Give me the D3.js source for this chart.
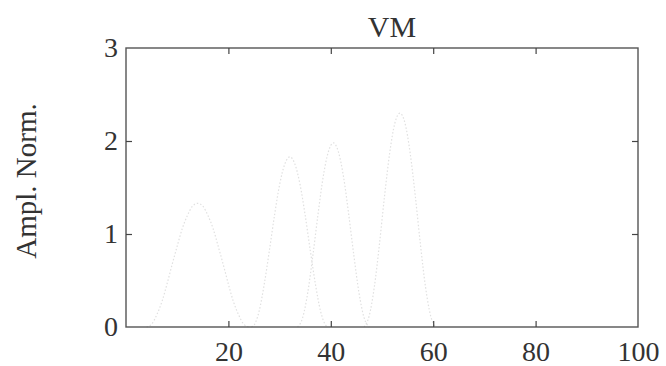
<!DOCTYPE html>
<html>
<head>
<meta charset="utf-8">
<script src="https://cdn.jsdelivr.net/npm/d3@7"></script>
<style>
  html, body { margin: 0; padding: 0; background: #fff; }
  svg { display: block; }
  .tick text, .lbl { font-family: "Liberation Serif", "Times New Roman", serif; fill: #333; }
</style>
</head>
<body>
<svg id="chart" width="666" height="366"></svg>
<script>
// Four normalised pulses (sample position, amplitude)
const pulse1X = [4, 5, 6, 7, 8, 9, 10, 11, 12, 13, 14, 15, 16, 17, 18, 19, 20, 21, 22, 23, 24];
const pulse1Y = [0, 0.03, 0.13, 0.27, 0.46, 0.67, 0.87, 1.06, 1.20, 1.30, 1.33, 1.30, 1.20, 1.06, 0.87, 0.67, 0.46, 0.27, 0.13, 0.03, 0];

const pulse2X = [24.5, 25, 26, 27, 28, 29, 30, 31, 32, 33, 34, 35, 36, 37, 38, 39, 39.5];
const pulse2Y = [0, 0.02, 0.17, 0.46, 0.82, 1.20, 1.53, 1.75, 1.83, 1.75, 1.53, 1.20, 0.82, 0.46, 0.17, 0.02, 0];

const pulse3X = [33.5, 34.5, 35.5, 36.5, 37.5, 38.5, 39.5, 40.5, 41.5, 42.5, 43.5, 44.5, 45.5, 46.5, 47.5];
const pulse3Y = [0, 0.10, 0.37, 0.77, 1.21, 1.61, 1.88, 1.98, 1.88, 1.61, 1.21, 0.77, 0.37, 0.10, 0];

const pulse4X = [46.5, 47.5, 48.5, 49.5, 50.5, 51.5, 52.5, 53.5, 54.5, 55.5, 56.5, 57.5, 58.5, 59.5, 60.5];
const pulse4Y = [0, 0.12, 0.43, 0.89, 1.41, 1.87, 2.19, 2.30, 2.19, 1.87, 1.41, 0.89, 0.43, 0.12, 0];

const xTicks = [20, 40, 60, 80, 100];
const yTicks = [0, 1, 2, 3];
const titleText = "VM";
const yLabelText = "Ampl. Norm.";

const svg = d3.select("#chart");
const plotLeft = 126, plotRight = 638, plotTop = 48, plotBottom = 327;

const x = d3.scaleLinear().domain([0, 100]).range([plotLeft, plotRight]);
const y = d3.scaleLinear().domain([0, 3]).range([plotBottom, plotTop]);

// pulses, drawn as faint dotted traces
const pulses = [[pulse1X, pulse1Y], [pulse2X, pulse2Y], [pulse3X, pulse3Y], [pulse4X, pulse4Y]];
const line = d3.line().x(d => x(d[0])).y(d => y(d[1])).curve(d3.curveMonotoneX);
pulses.forEach(([xs, ys]) => {
  svg.append("path")
    .datum(xs.map((v, i) => [v, ys[i]]))
    .attr("d", line)
    .attr("fill", "none")
    .attr("stroke", "#e0e0e0")
    .attr("stroke-width", 1.2)
    .attr("stroke-dasharray", "1.5,2");
});

// frame
svg.append("rect")
  .attr("x", plotLeft).attr("y", plotTop)
  .attr("width", plotRight - plotLeft).attr("height", plotBottom - plotTop)
  .attr("fill", "none").attr("stroke", "#555").attr("stroke-width", 1.4);

function styleAxis(g) {
  g.select(".domain").remove();
  g.selectAll(".tick line").attr("stroke", "#444").attr("stroke-width", 1.2);
  g.selectAll(".tick text").attr("font-size", 28).attr("fill", "#333");
}

// bottom axis with labels, inward ticks
svg.append("g").attr("transform", `translate(0,${plotBottom})`)
  .call(d3.axisBottom(x).tickValues(xTicks).tickSize(-6).tickPadding(14).tickFormat(d3.format("d")))
  .call(styleAxis)
  .call(g => g.selectAll(".tick").filter(d => d === 100).select("line").remove());

// top mirrored ticks
svg.append("g").attr("transform", `translate(0,${plotTop})`)
  .call(d3.axisTop(x).tickValues(xTicks.filter(d => d < 100)).tickSize(-6).tickFormat(""))
  .call(styleAxis);

// left axis with labels
svg.append("g").attr("transform", `translate(${plotLeft},0)`)
  .call(d3.axisLeft(y).tickValues(yTicks).tickSize(-6).tickPadding(8).tickFormat(d3.format("d")))
  .call(styleAxis)
  .call(g => g.selectAll(".tick").filter(d => d === 0 || d === 3).select("line").remove());

// right mirrored ticks
svg.append("g").attr("transform", `translate(${plotRight},0)`)
  .call(d3.axisRight(y).tickValues(yTicks.filter(d => d > 0 && d < 3)).tickSize(-6).tickFormat(""))
  .call(styleAxis);

// title
svg.append("text").attr("class", "lbl")
  .attr("x", 392).attr("y", 37)
  .attr("text-anchor", "middle")
  .attr("font-size", 30)
  .text(titleText);

// y label
svg.append("text").attr("class", "lbl")
  .attr("transform", "translate(36,181) rotate(-90)")
  .attr("text-anchor", "middle")
  .attr("font-size", 29)
  .text(yLabelText);
</script>
</body>
</html>
